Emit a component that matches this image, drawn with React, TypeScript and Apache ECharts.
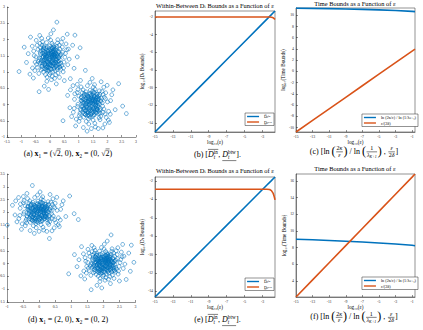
import React, { useEffect, useRef } from 'react';
import * as echarts from 'echarts';

const BLUE = '#0072BD';
const ORANGE = '#D95319';
const AX = '#262626';
const FONT = '"Liberation Serif", "DejaVu Serif", serif';

// ---------- scatter clouds (offsets around each cluster centre) ----------
const cloudA: number[][] = [
  [0.05,0.12],[-0.21,0.33],[0.31,-0.08],[-0.12,-0.27],[0.44,0.19],[-0.36,0.02],[0.09,-0.41],[0.18,0.27],[-0.03,-0.06],[0.26,0.48],
  [-0.47,-0.18],[0.13,-0.14],[-0.28,0.41],[0.37,-0.33],[-0.08,0.22],[0.02,0.57],[-0.55,0.09],[0.22,-0.02],[-0.16,-0.49],[0.49,-0.11],
  [-0.31,-0.35],[0.07,0.31],[0.15,-0.29],[-0.42,0.28],[0.33,0.08],[-0.05,-0.19],[0.28,-0.45],[-0.19,0.11],[0.11,0.42],[-0.24,-0.07],
  [0.58,0.27],[-0.12,0.49],[0.04,-0.33],[-0.38,-0.04],[0.19,0.16],[-0.01,0.25],[0.41,-0.22],[-0.29,-0.23],[0.08,-0.55],[-0.61,-0.29],
  [0.24,0.37],[-0.15,0.02],[0.35,0.29],[-0.07,-0.38],[0.12,0.05],[-0.45,0.41],[0.52,0.04],[-0.22,-0.42],[0.03,0.17],[0.29,-0.18],
  [-0.34,0.17],[0.17,-0.37],[-0.09,0.36],[0.46,-0.41],[-0.18,-0.15],[0.06,-0.09],[-0.52,-0.11],[0.27,0.58],[-0.26,0.52],[0.39,0.13],
  [-0.04,-0.28],[0.21,-0.06],[-0.39,-0.46],[0.14,0.29],[-0.11,-0.01],[0.62,-0.19],[-0.33,0.33],[0.01,-0.44],[0.32,0.41],[-0.2,0.21],
  [0.1,-0.22],[-0.57,0.23],[0.25,0.09],[-0.06,0.63],[0.43,0.35],[-0.27,-0.31],[0.16,-0.61],[-0.14,0.15],[0.36,-0.04],[-0.44,-0.27],
  [0.07,0.47],[-0.01,-0.14],[0.54,0.16],[-0.23,0.06],[0.2,-0.5],[-0.35,0.47],[0.3,0.22],[-0.1,-0.57],[0.47,-0.29],[-0.49,0.05],
  [0.0,0.0],[0.06,0.04],[-0.05,0.08],[0.11,-0.03],[-0.13,0.07],[0.04,-0.12],[0.17,0.1],[-0.09,-0.11],[0.08,0.21],[-0.17,-0.22],
  [0.23,-0.24],[-0.25,0.27],[0.14,0.13],[-0.19,-0.04],[0.02,-0.21],[0.3,0.03],[-0.3,-0.12],[0.19,-0.12],[-0.07,0.15],[0.12,0.35],
  [-0.03,0.39],[0.38,-0.15],[-0.41,-0.09],[0.09,0.09],[-0.14,-0.35],[0.25,-0.33],[-0.21,0.39],[0.16,0.21],[-0.02,-0.5],[0.34,-0.26],
  [0.79,0.41],[-0.82,-0.12],[0.12,0.88],[-0.2,-0.85],[0.71,-0.62],[-0.68,0.66],[0.95,0.05],[-0.05,-0.95],[0.6,0.75],[-0.9,0.35],
  [0.67,-0.02],[-0.7,-0.48],[0.45,0.62],[-0.36,0.71],[0.5,-0.68],[-0.58,-0.6],[0.03,0.76],[0.84,-0.3],[-0.76,0.15],[0.22,-0.78],
  [-0.48,0.56],[0.56,0.45],[-0.62,0.38],[0.64,0.29],[-0.11,-0.7],[0.4,0.5],[-0.53,-0.37],[0.33,-0.58],[-0.29,0.62],[0.05,-0.65],
  [1.05,0.33],[-0.38,-1.02],[0.24,1.12],[-1.08,-0.4],[0.87,0.72],
];
const cloudB: number[][] = [
  [-0.04,0.07],[0.23,-0.15],[-0.32,0.21],[0.12,0.38],[-0.18,-0.31],[0.41,0.05],[-0.07,-0.44],[0.29,0.27],[-0.45,-0.06],[0.06,-0.19],
  [0.17,0.14],[-0.26,0.45],[0.51,-0.29],[-0.13,0.02],[0.02,0.29],[-0.39,-0.34],[0.33,-0.47],[0.1,0.53],[-0.56,0.16],[0.44,0.31],
  [-0.09,-0.23],[0.26,-0.03],[-0.21,0.3],[0.07,-0.36],[0.38,0.19],[-0.34,-0.18],[0.15,-0.58],[-0.01,0.44],[0.59,0.08],[-0.46,0.37],
  [0.2,-0.26],[-0.15,-0.52],[0.31,0.42],[-0.28,0.08],[0.04,0.12],[0.47,-0.14],[-0.6,-0.24],[0.13,0.24],[-0.11,0.58],[0.36,-0.36],
  [-0.03,-0.09],[0.22,0.06],[-0.41,0.26],[0.09,-0.48],[0.53,0.36],[-0.23,-0.11],[0.01,0.2],[0.28,-0.21],[-0.5,-0.45],[0.16,0.47],
  [-0.17,0.17],[0.42,-0.05],[-0.07,-0.31],[0.35,0.12],[-0.33,0.54],[0.11,-0.12],[-0.24,-0.39],[0.63,-0.21],[-0.02,0.35],[0.24,0.32],
  [-0.44,0.01],[0.08,0.03],[0.3,-0.41],[-0.12,0.27],[0.19,-0.07],[-0.37,-0.27],[0.48,0.22],[-0.06,-0.6],[0.14,0.61],[-0.55,0.33],
  [0.27,0.15],[-0.19,-0.2],[0.05,-0.27],[0.4,0.4],[-0.29,0.36],[0.12,-0.33],[-0.08,0.1],[0.55,-0.4],[-0.4,-0.52],[0.21,-0.16],
  [0.0,0.05],[-0.05,-0.02],[0.09,0.16],[-0.14,-0.08],[0.18,-0.01],[-0.1,0.21],[0.03,-0.14],[0.25,0.23],[-0.22,-0.28],[0.15,0.08],
  [-0.31,0.11],[0.34,-0.12],[-0.01,-0.39],[0.07,0.4],[-0.27,-0.05],[0.32,0.31],[-0.16,0.39],[0.44,-0.24],[-0.36,-0.41],[0.2,0.2],
  [0.7,0.12],[-0.72,-0.1],[0.06,0.8],[-0.12,-0.82],[0.66,-0.55],[-0.61,0.58],[0.78,0.45],[-0.52,-0.66],[0.43,-0.72],[-0.35,0.74],
  [0.58,0.59],[-0.8,0.28],[0.86,-0.16],[0.27,-0.74],[-0.66,-0.37],[0.37,0.7],[-0.46,0.62],[0.62,-0.48],[-0.25,-0.71],[0.74,0.3],
  [-0.02,0.68],[0.5,-0.6],[-0.7,0.45],[0.69,-0.3],[0.17,-0.69],[-0.57,-0.12],[0.46,0.53],[-0.44,0.46],[0.03,-0.74],[0.52,0.18],
  [1.12,-0.05],[-0.96,-0.5],[0.35,-1.02],[-0.18,1.05],[0.98,0.64],[1.25,-0.28],
];
const cloudCore: number[][] = [
  [0.02,-0.05],[-0.11,0.09],[0.14,0.02],[-0.06,-0.16],[0.09,0.18],[-0.19,-0.03],[0.05,-0.22],[0.21,-0.11],[-0.14,0.2],[0.17,0.12],
  [-0.02,0.13],[0.11,-0.15],[-0.23,0.06],[0.26,0.07],[-0.08,-0.25],[0.03,0.27],[-0.17,-0.18],[0.19,-0.24],[-0.26,0.17],[0.12,0.26],
  [-0.04,0.01],[0.07,-0.07],[-0.12,-0.09],[0.15,0.08],[-0.09,0.25],[0.24,-0.04],[-0.21,-0.1],[0.01,-0.31],[0.29,0.19],[-0.3,-0.06],
  [0.08,0.33],[-0.15,0.31],[0.22,0.24],[-0.27,-0.24],[0.33,-0.17],[-0.01,-0.19],[0.13,-0.31],[-0.33,0.12],[0.28,-0.28],[-0.1,-0.34],
  [0.06,0.09],[-0.07,0.17],[0.18,-0.02],[-0.16,0.04],[0.1,0.12],[-0.05,-0.11],[0.2,0.17],[-0.24,0.26],[0.04,0.21],[-0.13,-0.27],
  [0.31,0.03],[-0.28,0.03],[0.16,-0.18],[-0.2,0.14],[0.09,-0.12],[-0.03,0.31],[0.25,0.14],[-0.18,-0.31],[0.14,0.36],[-0.35,-0.14],
  [0.36,0.1],[-0.06,0.23],[0.01,0.06],[0.11,-0.24],[-0.22,0.33],[0.27,-0.09],[-0.11,-0.21],[0.05,0.15],[-0.16,0.1],[0.21,0.31],
  [-0.32,0.24],[0.18,0.05],[-0.04,-0.36],[0.34,-0.27],[-0.25,-0.16],[0.08,0.04],[-0.09,0.07],[0.23,-0.17],[-0.14,-0.05],[0.12,0.2],
];
const centresA = [[0, 1.414], [1.414, 0]];
const centresD = [[-0.03, 2.0], [2.0, 0.0]];

const ticksAX = [-1.5, -1, -0.5, 0, 0.5, 1, 1.5, 2, 2.5, 3];
const ticksAY = [-1, -0.5, 0, 0.5, 1, 1.5, 2, 2.5, 3];
const ticksDX = [-1, -0.5, 0, 0.5, 1, 1.5, 2, 2.5, 3];
const ticksDY = [-1.5, -1, -0.5, 0, 0.5, 1, 1.5, 2, 2.5, 3, 3.5];

// ---------- bounds panels (b), (e) ----------
const logEpsBE = [-15, -13, -11, -9, -7, -5, -3, -2.5, -2.2, -2.0, -1.8, -1.7, -1.6];
const dInB = [-15, -12.96, -10.92, -8.88, -6.84, -4.8, -2.76, -2.25, -1.94, -1.74, -1.53, -1.43, -1.33];
const dBtwB = [-2, -2, -2, -2, -2, -2, -2, -2, -2.01, -2.03, -2.1, -2.18, -2.3];
const dInE = [-14.6, -12.66, -10.71, -8.77, -6.82, -4.88, -2.93, -2.44, -2.15, -1.96, -1.76, -1.67, -1.57];
const dBtwE = [-2.9, -2.9, -2.9, -2.9, -2.9, -2.9, -2.9, -2.9, -2.93, -3.05, -3.35, -3.65, -4.05];
const ticksBEX = [-15, -13, -11, -9, -7, -5, -3];
const ticksBEY = [-14, -12, -10, -8, -6, -4, -2];

// ---------- time panels (c), (f) ----------
const logEpsCF = [-15, -13, -11, -9, -7, -5, -3, -1, -0.65];
const lnRatioC = [11.28, 11.24, 11.19, 11.13, 11.06, 10.97, 10.86, 10.7, 10.65];
const epsDeltaC = [-10.8, -8.74, -6.68, -4.62, -2.56, -0.5, 1.56, 3.62, 3.98];
const lnRatioF = [9.0, 8.93, 8.85, 8.76, 8.66, 8.55, 8.42, 8.27, 8.22];
const epsDeltaF = [2.05, 4.11, 6.17, 8.23, 10.29, 12.35, 14.41, 16.47, 16.85];
const ticksCFX = [-15, -13, -11, -9, -7, -5, -3, -1];
const ticksCY = [-10, -8, -6, -4, -2, 0, 2, 4, 6, 8, 10];
const ticksFY = [4, 6, 8, 10, 12, 14, 16];

const legendNames: Record<string, string> = {
  bIn: 'D\u0305\u209C\u2071\u207F', bBtw: 'D\u0332\u209C\u1D47\u1D57\u02B7',
  eIn: 'D\u0305\u209C\u2071\u207F', eBtw: 'D\u0332\u209C\u1D47\u1D57\u02B7',
  cLn: 'ln (2κ/ε) / ln (1/λₖ₊₁)', cEps: 'ε/(2δ)',
  fLn: 'ln (2κ/ε) / ln (1/λₖ₊₁)', fEps: 'ε/(2δ)',
};

// ---------- small math-caption layout helper ----------
let mctx: any = null;
function tw(t: string, s: number, b?: boolean, i?: boolean) {
  if (!mctx) mctx = document.createElement('canvas').getContext('2d');
  mctx.font = `${i ? 'italic ' : ''}${b ? 'bold ' : ''}${s}px ${FONT}`;
  return mctx.measureText(t).width;
}
function segW(seg: any, base: number): number {
  if (seg.k === 't') return tw(seg.t, base * (seg.s ?? 1), seg.b, seg.i);
  if (seg.k === 'f') return Math.max(rowW(seg.num, base * 0.75), rowW(seg.den, base * 0.75)) + 2;
  if (seg.k === 'ss') return Math.max(tw(seg.sub, base * 0.65, false, seg.i), tw(seg.sup, base * 0.65)) + 0.5;
  return rowW(seg.items, base);
}
function rowW(segs: any[], base: number) { return segs.reduce((a, s) => a + segW(s, base), 0); }
function txt(t: string, x: number, baseline: number, size: number, b?: boolean, i?: boolean) {
  return {
    type: 'text', x, y: baseline - 0.34 * size, silent: true,
    style: { text: t, fill: '#000', fontSize: size, fontFamily: FONT, fontWeight: b ? 'bold' : 'normal', fontStyle: i ? 'italic' : 'normal', align: 'left', verticalAlign: 'middle' },
  };
}
function hline(x1: number, x2: number, y: number) {
  return { type: 'line', silent: true, shape: { x1, y1: y, x2, y2: y }, style: { stroke: '#000', lineWidth: 0.5 } };
}
function layRow(segs: any[], x: number, baseline: number, base: number, out: any[]): number {
  let cx = x;
  for (const seg of segs) {
    const w = segW(seg, base);
    if (seg.k === 't') {
      const size = base * (seg.s ?? 1);
      out.push(txt(seg.t, cx, baseline + (seg.dy ?? 0) * base, size, seg.b, seg.i));
    } else if (seg.k === 'f') {
      const fb = base * 0.75;
      const bar = baseline - 0.27 * base;
      layRow(seg.num, cx + (w - rowW(seg.num, fb)) / 2, bar - 1 - 0.12 * fb, fb, out);
      layRow(seg.den, cx + (w - rowW(seg.den, fb)) / 2, bar + 1 + 0.68 * fb, fb, out);
      out.push(hline(cx + 0.6, cx + w - 0.6, bar));
    } else if (seg.k === 'ss') {
      const s = base * 0.65;
      out.push(txt(seg.sub, cx, baseline + 0.2 * base, s, false, seg.i));
      out.push(txt(seg.sup, cx, baseline - 0.4 * base, s));
    } else {
      layRow(seg.items, cx, baseline, base, out);
      if (seg.over) out.push(hline(cx, cx + w, baseline - 0.95 * base));
      if (seg.under) out.push(hline(cx, cx + w, baseline + 0.45 * base));
    }
    cx += w;
  }
  return cx;
}
function caption(segs: any[], cx: number, baseline: number, base: number) {
  const out: any[] = [];
  const w = rowW(segs, base);
  layRow(segs, cx - w / 2, baseline, base, out);
  return out;
}
const T = (t: string, o: any = {}) => ({ k: 't', t, ...o });

function capA() {
  return [T('(a) '), T('x', { b: true }), T('1', { s: 0.65, dy: 0.22 }), T(' = ('), T('√'),
    { k: 'g', over: true, items: [T('2')] }, T(', 0), '), T('x', { b: true }), T('2', { s: 0.65, dy: 0.22 }),
    T(' = (0, '), T('√'), { k: 'g', over: true, items: [T('2')] }, T(')')];
}
function capD() {
  return [T('(d) '), T('x', { b: true }), T('1', { s: 0.65, dy: 0.22 }), T(' = (2, 0), '),
    T('x', { b: true }), T('2', { s: 0.65, dy: 0.22 }), T(' = (0, 2)')];
}
function capBE(letter: string) {
  return [T(`(${letter}) [`), { k: 'g', over: true, items: [T('D', { i: true }), { k: 'ss', sub: 't', sup: 'in', i: true }] },
    T(', '), { k: 'g', under: true, items: [T('D', { i: true }), { k: 'ss', sub: 't', sup: 'btw', i: true }] }, T('].')];
}
function capCF(letter: string) {
  const big = (p: string) => T(p, { s: 1.5, dy: 0.13 });
  return [T(`(${letter}) [ln `), big('('), { k: 'f', num: [T('2'), T('κ', { i: true })], den: [T('ε', { i: true })] }, big(')'),
    T(' / ln '), big('('), { k: 'f', num: [T('1')], den: [T('λ', { i: true }), T('K+1', { s: 0.65, dy: 0.22, i: true })] }, big(')'),
    T(' , '), { k: 'f', num: [T('ε', { i: true })], den: [T('2'), T('δ', { i: true })] }, T(']')];
}

function titleText(t: string, x: number, y: number) {
  return {
    type: 'text', x, y, silent: true,
    style: { text: t, fill: '#000', fontSize: 6.4, fontFamily: FONT, align: 'center', verticalAlign: 'middle' },
  };
}

function valAxis(gridIndex: number, min: number, max: number, ticks: number[], isY: boolean, name?: string, nameGap?: number) {
  return {
    type: 'value', gridIndex, min, max,
    name, nameLocation: 'middle', nameGap,
    nameTextStyle: { fontSize: 5.2, fontFamily: FONT, color: '#000' },
    axisLine: { show: true, onZero: false, lineStyle: { color: AX, width: 0.5 } },
    axisTick: { show: true, inside: true, length: 2, customValues: ticks, lineStyle: { color: AX, width: 0.5 } },
    axisLabel: { show: true, customValues: ticks, fontSize: 3.8, fontFamily: FONT, color: AX, margin: isY ? 2 : 2.5, hideOverlap: false },
    splitLine: { show: false },
  };
}

function lineSeries(name: string, idx: number, xs: number[], ys: number[], color: string) {
  return {
    type: 'line', name, xAxisIndex: idx, yAxisIndex: idx,
    data: xs.map((x, i) => [x, ys[i]]),
    showSymbol: false, symbol: 'none', clip: true,
    lineStyle: { color, width: 1.6 }, itemStyle: { color },
    emphasis: { disabled: true },
  };
}
function scatterSeries(idx: number, centres: number[][], clouds: number[][][][]) {
  const data: number[][] = [];
  clouds.forEach((group, k) => group.forEach((cl) => cl.forEach(([dx, dy]) => data.push([centres[k][0] + dx, centres[k][1] + dy]))));
  return {
    type: 'scatter', xAxisIndex: idx, yAxisIndex: idx, data,
    symbol: 'circle', symbolSize: 3.8,
    itemStyle: { color: 'rgba(0,0,0,0)', borderColor: BLUE, borderWidth: 0.7 },
    emphasis: { disabled: true },
  };
}
function legendFor(names: string[], right: number, top: number) {
  return {
    orient: 'vertical', right, top, data: names,
    formatter: (n: string) => legendNames[n],
    backgroundColor: '#fff', borderColor: AX, borderWidth: 0.5, borderRadius: 0,
    padding: [1.5, 2, 1.5, 2], itemGap: 1.5, itemWidth: 12, itemHeight: 1.4, icon: 'rect',
    textStyle: { fontSize: 4.2, fontFamily: FONT, color: '#000' },
    selectedMode: false,
  };
}

export default function App() {
  const ref = useRef<HTMLDivElement>(null);
  useEffect(() => {
    if (!ref.current) return;
    const chart = echarts.init(ref.current, null, { renderer: 'svg' });
    const box = { show: true, borderColor: AX, borderWidth: 0.5, backgroundColor: 'rgba(0,0,0,0)' };
    const grids = [
      { left: 7, top: 7, width: 129, height: 130 },
      { left: 155, top: 11, width: 120, height: 121, ...box },
      { left: 296, top: 8, width: 119, height: 124, ...box },
      { left: 7, top: 174, width: 128.5, height: 128 },
      { left: 155, top: 177, width: 120, height: 120, ...box },
      { left: 296, top: 174, width: 119, height: 123, ...box },
    ].map((g) => ({ ...g, outerBoundsMode: 'none', containLabel: false }));

    const graphic: any[] = [
      titleText('Within-Between Dₜ Bounds as a Function of ε', 215, 5),
      titleText('Time Bounds as a Function of ε', 355, 3.5),
      titleText('Within-Between Dₜ Bounds as a Function of ε', 215, 170.5),
      titleText('Time Bounds as a Function of ε', 355, 168),
      ...caption(capA(), 68, 156.5, 8),
      ...caption(capD(), 68, 322, 8),
      ...caption(capBE('b'), 217.5, 157, 8),
      ...caption(capBE('e'), 217.5, 322, 8),
      ...caption(capCF('c'), 354, 154, 8),
      ...caption(capCF('f'), 354, 319.5, 8),
    ];

    const option: any = {
      animation: false,
      backgroundColor: '#fff',
      grid: grids,
      xAxis: [
        valAxis(0, -1.5, 3, ticksAX, false),
        valAxis(1, -15, -1.6, ticksBEX, false, 'log₁₀(ε)', 7),
        valAxis(2, -15, -0.65, ticksCFX, false, 'log₁₀(ε)', 7),
        valAxis(3, -1, 3, ticksDX, false),
        valAxis(4, -15, -1.6, ticksBEX, false, 'log₁₀(ε)', 7),
        valAxis(5, -15, -0.65, ticksCFX, false, 'log₁₀(ε)', 7),
      ],
      yAxis: [
        valAxis(0, -1, 3, ticksAY, true),
        valAxis(1, -15, -1.33, ticksBEY, true, 'log₁₀(Dₜ Bounds)', 10),
        valAxis(2, -10.8, 11.3, ticksCY, true, 'log₁₀(Time Bounds)', 10),
        valAxis(3, -1.5, 3.5, ticksDY, true),
        valAxis(4, -14.6, -1.57, ticksBEY, true, 'log₁₀(Dₜ Bounds)', 10),
        valAxis(5, 2.05, 16.85, ticksFY, true, 'log₁₀(Time Bounds)', 8),
      ],
      legend: [
        legendFor(['bIn', 'bBtw'], 149, 113),
        legendFor(['cLn', 'cEps'], 5, 114),
        legendFor(['eIn', 'eBtw'], 149, 278),
        legendFor(['fLn', 'fEps'], 5, 277),
      ],
      series: [
        scatterSeries(0, centresA, [[cloudA, cloudCore], [cloudB, cloudCore]]),
        lineSeries('bIn', 1, logEpsBE, dInB, BLUE),
        lineSeries('bBtw', 1, logEpsBE, dBtwB, ORANGE),
        lineSeries('cLn', 2, logEpsCF, lnRatioC, BLUE),
        lineSeries('cEps', 2, logEpsCF, epsDeltaC, ORANGE),
        scatterSeries(3, centresD, [[cloudB, cloudCore], [cloudA, cloudCore]]),
        lineSeries('eIn', 4, logEpsBE, dInE, BLUE),
        lineSeries('eBtw', 4, logEpsBE, dBtwE, ORANGE),
        lineSeries('fLn', 5, logEpsCF, lnRatioF, BLUE),
        lineSeries('fEps', 5, logEpsCF, epsDeltaF, ORANGE),
      ],
      graphic,
    };
    chart.setOption(option);
    return () => chart.dispose();
  }, []);
  return <div ref={ref} style={{ position: 'fixed', left: 0, top: 0, width: 423, height: 330, background: '#fff' }} />;
}
